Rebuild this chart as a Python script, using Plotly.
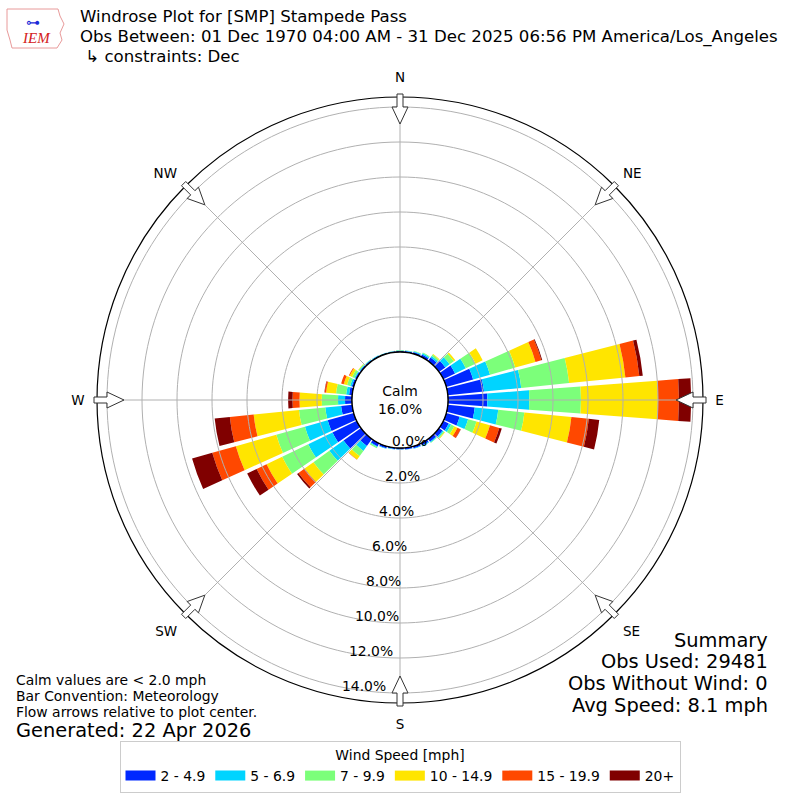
import math
import plotly.graph_objects as go

# wind direction bins (degrees, meteorological) and speed bins
directions = list(range(0, 360, 10))
speed_labels = ["2 - 4.9", "5 - 6.9", "7 - 9.9", "10 - 14.9", "15 - 19.9", "20+"]
speed_colors = ["#0028ff", "#00d4ff", "#7cff7a", "#ffe500", "#ff4800", "#800000"]

# frequency (%) per direction for each speed bin
spd_2_5 = [0.06, 0.07, 0.10, 0.15, 0.25, 0.45, 0.75, 1.60, 2.08, 2.25, 1.55, 0.80,
           0.35, 0.25, 0.20, 0.15, 0.12, 0.10, 0.08, 0.08, 0.12, 0.20, 0.50, 1.23,
           1.54, 1.55, 0.64, 0.40, 0.18, 0.12, 0.10, 0.08, 0.07, 0.06, 0.05, 0.05]
spd_5_7 = [0.03, 0.03, 0.05, 0.07, 0.10, 0.30, 0.68, 1.00, 2.14, 2.40, 1.35, 0.50,
           0.15, 0.07, 0.05, 0.05, 0.03, 0.02, 0.02, 0.02, 0.03, 0.05, 0.34, 1.00,
           1.54, 1.35, 0.91, 0.40, 0.17, 0.10, 0.05, 0.04, 0.03, 0.03, 0.02, 0.02]
spd_7_10 = [0.03, 0.02, 0.03, 0.05, 0.10, 0.30, 0.62, 1.50, 2.75, 2.95, 1.50, 0.50,
            0.20, 0.06, 0.03, 0, 0, 0, 0, 0, 0, 0.07, 0.36, 1.12,
            1.65, 1.70, 1.51, 0.93, 0.58, 0.18, 0.15, 0.06, 0.02, 0.01, 0.01, 0.01]
spd_10_15 = [0, 0, 0, 0, 0.05, 0.10, 0.45, 1.20, 3.23, 4.40, 2.70, 0.80,
             0.20, 0.04, 0, 0, 0, 0, 0, 0, 0, 0, 0.25, 0.62,
             0.99, 2.40, 2.60, 1.27, 0.57, 0.20, 0.15, 0.02, 0, 0, 0, 0]
spd_15_20 = [0, 0, 0, 0, 0, 0, 0, 0.35, 0.80, 1.20, 1.00, 0.55,
             0.20, 0, 0, 0, 0, 0, 0, 0, 0, 0, 0.02, 0.43,
             0.63, 1.40, 1.37, 0.40, 0.08, 0.15, 0.05, 0, 0, 0, 0, 0]
spd_20_up = [0, 0, 0, 0, 0, 0, 0, 0.05, 0.20, 0.70, 0.60, 0.15,
             0.02, 0, 0, 0, 0, 0, 0, 0, 0, 0, 0, 0.10,
             0.60, 1.20, 0.87, 0.25, 0.02, 0, 0, 0, 0, 0, 0, 0]
speed_series = [spd_2_5, spd_5_7, spd_7_10, spd_10_15, spd_15_20, spd_20_up]

radial_ticks = [0, 2, 4, 6, 8, 10, 12, 14]
compass_angles = [0, 45, 90, 135, 180, 225, 270, 315]
compass_labels = ["N", "NE", "E", "SE", "S", "SW", "W", "NW"]

calm_pct = 16.0
obs_used = 29481
obs_no_wind = 0
avg_speed = 8.1

FONT = "DejaVu Sans"
W = H = 800
R_OUT = 303      # polar radius in px
R_HOLE = 48      # calm circle radius in px
PX_PER_PCT = 17.5
R_MAX = (R_OUT - R_HOLE) / PX_PER_PCT
CX, CY = 400, 400
GRID = "#b0b0b0"


def px(x, y):
    return x / W, 1 - y / H


fig = go.Figure()
for vals, name, col in zip(speed_series, speed_labels, speed_colors):
    fig.add_trace(go.Barpolar(r=vals, theta=directions, width=8.6, name=name,
                              marker=dict(color=col, line=dict(width=0)),
                              showlegend=False))

# grid drawn over the bars, like the original
circle_theta = list(range(0, 361, 2))
for v in radial_ticks[1:]:
    fig.add_trace(go.Scatterpolar(r=[v] * len(circle_theta), theta=circle_theta, mode="lines",
                                  line=dict(color=GRID, width=1), showlegend=False,
                                  hoverinfo="skip"))
for a in compass_angles:
    fig.add_trace(go.Scatterpolar(r=[0, R_MAX], theta=[a, a], mode="lines",
                                  line=dict(color=GRID, width=1), showlegend=False,
                                  hoverinfo="skip"))

# legend entries with wide flat swatches
for name, col in zip(speed_labels, speed_colors):
    fig.add_trace(go.Scatterpolar(r=[None], theta=[None], mode="lines", name=name,
                                  line=dict(color=col, width=10)))


# flow arrows on the rim, pointing to the centre
def arrow_path(theta):
    t = math.radians(theta)
    pts = [(276, 0), (293, 8), (293, 3), (306, 3), (306, -3), (293, -3), (293, -8)]
    out = []
    for a, w in pts:
        x = CX + a * math.sin(t) + w * math.cos(t)
        y = CY - a * math.cos(t) + w * math.sin(t)
        xp, yp = px(x, y)
        out.append(f"{xp:.5f},{yp:.5f}")
    return "M" + "L".join(out) + "Z"


shapes = []
for ang in compass_angles:
    shapes.append(dict(type="path", xref="paper", yref="paper", path=arrow_path(ang),
                       line=dict(color="#333333", width=1), fillcolor="white"))
# calm circle
x0, y0 = px(CX - R_HOLE, CY + R_HOLE)
x1, y1 = px(CX + R_HOLE, CY - R_HOLE)
shapes.append(dict(type="circle", xref="paper", yref="paper", x0=x0, y0=y0, x1=x1, y1=y1,
                   line=dict(color="black", width=1.3), fillcolor="white"))
# rough IEM logo outline
logo = "M7,9 L58,9 L60,16 L64,24 L60,33 L62,40 L57,48 L12,48 L10,40 L7,30 Z"
logo_p = []
for seg in logo.replace("M", "").replace("Z", "").split("L"):
    a, b = seg.strip().split(",")
    xp, yp = px(float(a), float(b))
    logo_p.append(f"{xp:.5f},{yp:.5f}")
shapes.append(dict(type="path", xref="paper", yref="paper",
                   path="M" + "L".join(logo_p) + "Z",
                   line=dict(color="#e89a9a", width=1)))

ann = []
def text(x, y, s, size, xanchor="left", color="black", family=FONT):
    xp, yp = px(x, y)
    ann.append(dict(x=xp, y=yp, xref="paper", yref="paper", text=s, showarrow=False,
                    xanchor=xanchor, yanchor="middle", borderpad=0,
                    font=dict(family=family, size=size, color=color)))

text(79, 17, "Windrose Plot for [SMP] Stampede Pass", 16.6)
text(79, 37, "Obs Between: 01 Dec 1970 04:00 AM - 31 Dec 2025 06:56 PM America/Los_Angeles", 16.6)
text(79, 56, " ↳ constraints: Dec", 16.6)
text(36, 38, "<i>IEM</i>", 15, xanchor="center", color="#d42020", family="Liberation Serif")
text(33, 22, "⊶", 14, xanchor="center", color="#1a2bd8")

text(400, 400, f"Calm<br>{calm_pct:.1f}%", 13.9, xanchor="center")

# radial tick labels, placed just inside each ring a little left of the S spoke
for v in radial_ticks:
    rr = R_HOLE + v * PX_PER_PCT
    text(CX + 17.8 - 0.183 * rr, CY + rr - 7, f"{v:.1f}%", 13.9, xanchor="center")

text(15, 680, "Calm values are &lt; 2.0 mph", 13.9)
text(15, 696, "Bar Convention: Meteorology", 13.9)
text(15, 712, "Flow arrows relative to plot center.", 13.9)
text(15, 730, "Generated: 22 Apr 2026", 19.4)

text(769, 640, "Summary", 19.4, xanchor="right")
text(769, 661, f"Obs Used: {obs_used}", 19.4, xanchor="right")
text(769, 683, f"Obs Without Wind: {obs_no_wind}", 19.4, xanchor="right")
text(769, 705, f"Avg Speed: {avg_speed} mph", 19.4, xanchor="right")

dom = [(CX - R_OUT) / W, (CX + R_OUT) / W]
fig.update_layout(
    width=W, height=H, margin=dict(l=0, r=0, t=0, b=0),
    paper_bgcolor="white", plot_bgcolor="white",
    font=dict(family=FONT, color="black"),
    polar=dict(
        domain=dict(x=dom, y=dom),
        hole=R_HOLE / R_OUT,
        bgcolor="white",
        barmode="stack",
        radialaxis=dict(range=[0, R_MAX], tickvals=radial_ticks, showticklabels=False,
                        showline=False, ticks="", showgrid=False),
        angularaxis=dict(direction="clockwise", rotation=90, tickvals=compass_angles,
                         ticktext=compass_labels, showline=True, linecolor="black",
                         linewidth=1.2, showgrid=False,
                         ticks="outside", ticklen=9, tickcolor="rgba(0,0,0,0)",
                         tickfont=dict(size=13.5, family=FONT)),
    ),
    legend=dict(orientation="h", x=0.5, xanchor="center", y=1 - 741 / H, yanchor="top",
                bordercolor="#cccccc", borderwidth=1, tracegroupgap=0,
                font=dict(size=13.9, family=FONT),
                title=dict(text="Wind Speed [mph]", side="top center",
                           font=dict(size=13.9, family=FONT))),
    shapes=shapes,
    annotations=ann,
)

fig.write_html("out.html", config={"displayModeBar": False},
               post_script="document.body.style.margin='0px';")
